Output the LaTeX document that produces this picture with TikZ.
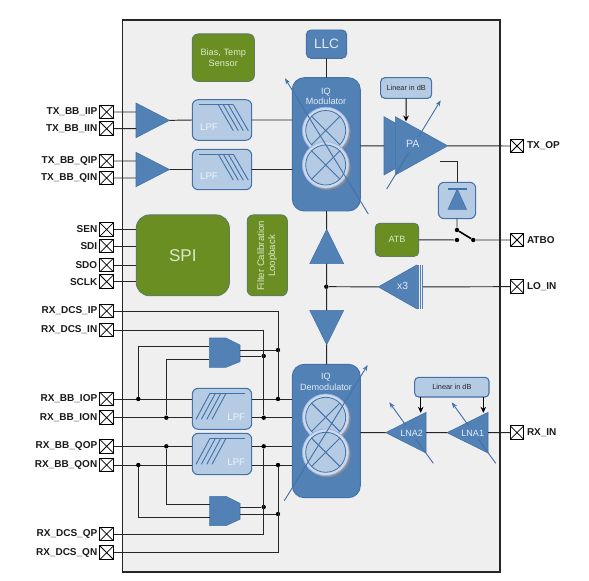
\documentclass[tikz,border=0pt]{standalone}
\usepackage{fontspec}
\setmainfont{Liberation Sans}
\usetikzlibrary{arrows.meta,calc}
\definecolor{blk}{HTML}{5181B5}
\definecolor{blkedge}{HTML}{4472A8}
\definecolor{lite}{HTML}{B5CBE3}
\definecolor{grn}{HTML}{6B8E23}
\definecolor{grnedge}{HTML}{5E7F5A}
\definecolor{panel}{HTML}{EFEFF0}
\definecolor{softtxt}{HTML}{E3ECF6}
\definecolor{grntxt}{HTML}{DCE8C8}
\tikzset{
  wire/.style={draw=black!85,line width=.72pt},
  padbox/.style={draw=black,line width=.75pt,fill=white,inner sep=0,outer sep=0,minimum size=10.2pt,
    path picture={\draw[line width=.55pt] (path picture bounding box.north west)--(path picture bounding box.south east)
      (path picture bounding box.north east)--(path picture bounding box.south west);}},
  padlabel/.style={font=\bfseries\fontsize{7.5}{9}\selectfont,text=black!90,inner sep=0},
  base/.style={inner sep=0,outer sep=0,align=center},
  ghost/.style={base},
  blueblk/.style={base,draw=blkedge,line width=.7pt,fill=blk,text=softtxt},
  liteblk/.style={base,draw=blkedge,line width=.8pt,fill=lite,rounded corners=4.5pt},
  grnblk/.style={base,draw=grnedge,line width=.8pt,fill=grn,text=grntxt},
  tri/.style={fill=blk,draw=blkedge,line width=.4pt},
  softlabel/.style={inner sep=0,text=softtxt,align=center},
  lpflabel/.style={inner sep=0,text=softtxt!60!white,font=\fontsize{7.2}{9}\selectfont},
  lpfline/.style={draw=blkedge,line width=.7pt},
  dot/.style={circle,fill=black,inner sep=0,minimum size=3.3pt},
  tune/.style={draw=blkedge,line width=.7pt,-{Stealth[length=4.5pt,width=3.4pt]}},
  ctl/.style={draw=black,line width=.8pt,-{Stealth[length=4.5pt,width=4.2pt]}},
}
\newcommand\bx[7][ghost]{\node[#1,minimum width={(#5-#3)*0.75pt},minimum height={(#6-#4)*0.75pt}] (#2) at ({(#3+#5)/2},{(#4+#6)/2}) {#7};}
\newcommand\mixer[3]{%
  \fill[black!45] (#2+1.5,#3+1.5) circle[radius=17.6pt];
  \node[circle,inner sep=0,minimum size=35pt,fill=lite!70!white,draw=lite!85!blue,line width=.5pt] (#1o) at (#2,#3) {};
  \node[circle,inner sep=0,minimum size=30pt,fill=lite,draw=blkedge,line width=.6pt] (#1) at (#2,#3) {};
  \draw[lpfline] (#1.45)--(#1.225) (#1.135)--(#1.315);
}
\newcommand\txlpf[2]{% name, top y
  \draw[lpfline] (199,#2+4.7)--(233.3,#2+4.7);
  \foreach \d in {0,5,10,15}{\draw[lpfline] (218.3+\d,#2+4.7)--(233.3+\d,#2+30.7);}
}
\newcommand\rxlpf[2]{% name, top y
  \draw[lpfline] (210,#2+5)--(245,#2+5);
  \foreach \d in {0,5.4,10.8,16}{\draw[lpfline] (210+\d,#2+5)--(196+\d,#2+31);}
}
\begin{document}
\begin{tikzpicture}[x=.75pt,y=-.75pt]
\useasboundingbox (0,0) rectangle (589,581);
\bx[base,draw=black!85,line width=.8pt,fill=panel]{chip}{122.4}{20}{500}{572}{}

% pads
\foreach \n/\t/\y in {txiip/TX\_BB\_IIP/112,txiin/TX\_BB\_IIN/128.7,txqip/TX\_BB\_QIP/161,txqin/TX\_BB\_QIN/178,
  sen/SEN/229.5,sdi/SDI/246,sdo/SDO/265,sclk/SCLK/281.7,dcsip/RX\_DCS\_IP/311,dcsin/RX\_DCS\_IN/330,
  rxiop/RX\_BB\_IOP/399,rxion/RX\_BB\_ION/417.7,rxqop/RX\_BB\_QOP/446.3,rxqon/RX\_BB\_QON/465,
  dcsqp/RX\_DCS\_QP/534,dcsqn/RX\_DCS\_QN/552.7}{
  \node[padbox] (\n) at (106.7,\y) {};
  \node[padlabel,anchor=east] (l\n) at ([xshift=-1.8pt]\n.west) {\t};
}
\foreach \n/\t/\y in {txop/TX\_OP/146,atbo/ATBO/240,loin/LO\_IN/286.7,rxin/RX\_IN/432.7}{
  \node[padbox] (\n) at (517,\y) {};
  \node[padlabel,anchor=west] (l\n) at ([xshift=2.2pt]\n.east) {\t};
}

% TX amplifiers
\bx{ta1}{136}{103}{169.5}{137.7}{}
\bx{ta2}{136}{152.3}{169.5}{186.7}{}
\foreach \n in {ta1,ta2}{\draw[tri] (\n.north west)--(\n.east)--(\n.south west)--cycle;}

% LPFs
\bx[liteblk]{tl1}{192.3}{99.7}{251.7}{140.3}{}
\bx[liteblk]{tl2}{192.3}{149.3}{251.7}{189.7}{}
\bx[liteblk]{rl1}{192.3}{388.3}{251.7}{429.3}{}
\bx[liteblk]{rl2}{192.3}{433.3}{251.7}{474.7}{}
\txlpf{tl1}{100}
\txlpf{tl2}{149.5}
\rxlpf{rl1}{388.3}
\rxlpf{rl2}{433.3}
\node[lpflabel] (t1) at (209,126.7) {LPF};
\node[lpflabel] (t2) at (209,176.5) {LPF};
\node[lpflabel] (t3) at (236.3,416.7) {LPF};
\node[lpflabel] (t4) at (236.3,461.7) {LPF};

% green blocks
\bx[grnblk,rounded corners=4.5pt,font=\fontsize{6.9}{7.6}\selectfont]{bias}{192.3}{34}{254.3}{81.3}{Bias, Temp\\Sensor}
\bx[grnblk,rounded corners=10pt,font=\fontsize{12.8}{15}\selectfont]{spi}{136.3}{215}{229.3}{295.7}{SPI}
\bx[grnblk,rounded corners=4.5pt]{fcal}{247.3}{215}{287.3}{295.7}{}
\node[rotate=90,inner sep=0,align=center,text=grntxt,font=\fontsize{7.2}{8.3}\selectfont] (fcaltxt) at (267.2,256) {Filter Calibration\\Loopback};
\bx[grnblk,rounded corners=3.5pt,font=\fontsize{6.8}{8}\selectfont]{atb}{375.3}{223.3}{418.7}{256.3}{ATB}

% LLC, IQ blocks
\bx[blueblk,rounded corners=3.5pt,font=\fontsize{10.2}{12}\selectfont]{llc}{306.3}{30}{346.7}{58.3}{LLC}
\bx[blueblk,rounded corners=9pt]{mod}{292.3}{77.7}{360.3}{211}{}
\bx[blueblk,rounded corners=9pt]{dem}{292.3}{364.3}{360.3}{497.7}{}
\node[softlabel,font=\fontsize{6.8}{7.5}\selectfont] (modt) at (326,96) {IQ\\Modulator};
\node[softlabel,font=\fontsize{6.8}{8.2}\selectfont] (demt) at (326,382) {IQ\\Demodulator};
\mixer{m1}{325.7}{130.5}
\mixer{m2}{325.7}{165}
\mixer{d1}{325.7}{417.3}
\mixer{d2}{325.7}{452.3}

% PA
\bx{parear}{384}{116.7}{436}{175}{}
\bx{pa}{395.3}{116.7}{447.7}{175}{}
\draw[tri] (parear.north west)--(parear.east)--(parear.south west)--cycle;
\draw[tri] (pa.north west)--(pa.east)--(pa.south west)--cycle;
\bx[liteblk,rounded corners=3pt,font=\fontsize{5.5}{7}\selectfont,text=black!85]{lind}{380.7}{77.7}{431.7}{98.3}{Linear in dB}

% detector
\bx[liteblk]{det}{438.3}{182.3}{475.7}{218.7}{}
\bx{dtri}{448}{189}{466.5}{209.3}{}
\draw[tri] (dtri.south west)--(dtri.north)--(dtri.south east)--cycle;
\draw[draw=blkedge,line width=.9pt] (dtri.north west)--(dtri.north east);
\coordinate (detin) at (440,161);

% LO chain
\bx{up}{309.7}{229.3}{343.7}{263.7}{}
\bx{down}{309.7}{310.3}{343.7}{344.7}{}
\draw[tri] (up.south west)--(up.north)--(up.south east)--cycle;
\draw[tri] (down.north west)--(down.south)--(down.north east)--cycle;
\bx{xth}{378.3}{265}{416.7}{308.7}{}
\bx[base,fill=blk]{xbar}{416.7}{265}{423}{308.7}{}
\draw[tri] (xth.north east)--(xth.west)--(xth.south east)--cycle;
\draw[panel,line width=.4pt] (418.8,265)--(418.8,308.7) (421,265)--(421,308.7);
\node[softlabel,font=\fontsize{7.8}{9}\selectfont] (x3t) at (402.7,286.3) {x3};
\node[dot] (lojn) at (326.3,286.7) {};

% LNAs
\bx{lna2}{385.7}{412.3}{426}{453}{}
\bx{lna1}{447}{412.3}{488}{453}{}
\foreach \n in {lna1,lna2}{\draw[tri] (\n.north east)--(\n.west)--(\n.south east)--cycle;}
\bx[liteblk,rounded corners=3pt,font=\fontsize{5.5}{7}\selectfont,text=black!85]{linr}{414.7}{377.3}{489}{397}{Linear in dB}

% comparators
\bx{g1}{209.3}{338}{240}{367.3}{}
\bx{g2}{209.7}{496.3}{240}{525.7}{}
\fill[fill=blk,draw=blkedge,line width=.4pt] (209.3,338)--(226,338)--(240,345)--(240,361.7)--(226,367.3)--(209.3,367.3)--cycle;
\fill[fill=blk,draw=blkedge,line width=.4pt] (209.7,496.3)--(226,496.3)--(240,503.3)--(240,519.3)--(226,525.7)--(209.7,525.7)--cycle;

% TX wiring
\path[wire] (txiip.east)--(txiip.east -| ta1.west) (txiin.east)--(txiin.east -| ta1.west)
  (txqip.east)--(txqip.east -| ta2.west) (txqin.east)--(txqin.east -| ta2.west)
  (ta1.east)--(tl1.west) (ta2.east)--(tl2.west)
  (tl1.east)--(tl1.east -| mod.west) (tl2.east)--(tl2.east -| mod.west)
  (llc.south)--(llc.south |- mod.north)
  (mod.east |- parear.west)--(parear.west)
  (pa.east)--(txop.west);
\draw[ctl] (lind.south)--(406,121.5);
\path[wire] (detin)-|(det.north);

% SPI wiring
\path[wire] (sen.east)--(sen.east -| spi.west) (sdi.east)--(sdi.east -| spi.west)
  (sdo.east)--(sdo.east -| spi.west) (sclk.east)--(sclk.east -| spi.west);

% LO wiring
\path[wire] (llc.south |- mod.south)--(up.north)
  (up.south)--(down.north) (down.south)--(down.south |- dem.north)
  (lojn)--(xth.west) (xbar.east)--(loin.west);

% switch
\node[dot] (sw1) at (457,230) {};
\node[dot] (sw2) at (457,240) {};
\node[dot] (sw3) at (473.3,240) {};
\path[wire] (det.south)--(sw1) (atb.east)--(sw2) (sw3)--(atbo.west);
\draw[line width=1.2pt] (sw1)--(sw3);

% LNA wiring
\path[wire] (dem.east |- lna2.west)--(lna2.west) (lna2.east)--(lna1.west) (lna1.east)--(rxin.west);
\draw[ctl] (linr.south -| 420.7,0)--(420.7,412.8);
\draw[ctl] (linr.south -| 483.3,0)--(483.3,412.8);

% RX baseband wiring
\foreach \n/\l in {rxiop/rl1,rxion/rl1,rxqop/rl2,rxqon/rl2}{
  \path[wire] (\n.east)--(\n.east -| \l.west) (\n.east -| \l.east)--(\n.east -| dem.west);
}
\coordinate (xa) at (278,0);
\coordinate (xb) at (263.7,0);
\coordinate (xc) at (138.3,0);
\coordinate (xd) at (166.3,0);
\node[dot] (a1) at (xa |- rxiop) {};
\node[dot] (b1) at (xb |- rxion) {};
\node[dot] (b2) at (xb |- rxqop) {};
\node[dot] (a2) at (xa |- rxqon) {};
\node[dot] (c1) at (xc |- rxiop) {};
\node[dot] (d1) at (xd |- rxion) {};
\node[dot] (d2) at (xd |- rxqop) {};
\node[dot] (c2) at (xc |- rxqon) {};
\node[dot] (ga) at (278,350) {};
\node[dot] (gb) at (263.7,356) {};
\node[dot] (hb) at (263.7,507) {};
\node[dot] (ha) at (278,514) {};
\path[wire] (dcsip.east)-|(a1) (dcsin.east)-|(b1) (dcsqp.east)-|(b2) (dcsqn.east)-|(a2);
\path[wire] (240,350)--(ga) (240,356)--(gb) (240,507)--(hb) (240,514)--(ha);
\path[wire] (c1)|-(g1.west |- 0,346) (d1)|-(g1.west |- 0,359.7);
\path[wire] (d2)|-(g2.west |- 0,504) (c2)|-(g2.west |- 0,517.3);

% tuning arrows
\coordinate (ma) at (368.3,214); \coordinate (mb) at (285,78.3);
\coordinate (da) at (284.3,500.7); \coordinate (db) at (367.7,365);
\coordinate (pb) at (386.7,189); \coordinate (pc) at (440.7,100.3);
\coordinate (la) at (433.3,463.3); \coordinate (lb) at (389.3,402.3);
\coordinate (lc) at (495.7,463.3); \coordinate (ld) at (451.7,402.3);
\draw[tune] (ma)--(mb);
\draw[tune] (da)--(db);
\draw[tune] (pb)--(pc);
\draw[tune] (la)--(lb);
\draw[tune] (lc)--(ld);

% labels above the tuning arrows
\fill[blk] (pa.center)++(-17,-9) rectangle ++(20,16);
\fill[blk] (399,426) rectangle ++(25,13);
\fill[blk] (461,426) rectangle ++(25,13);
\node[softlabel,font=\fontsize{7.9}{9}\selectfont] (pat) at (412.7,144.3) {PA};
\node[softlabel,font=\fontsize{6.8}{8}\selectfont] (lna2t) at (411.7,433) {LNA2};
\node[softlabel,font=\fontsize{6.8}{8}\selectfont] (lna1t) at (472.7,433) {LNA1};
\end{tikzpicture}
\end{document}
